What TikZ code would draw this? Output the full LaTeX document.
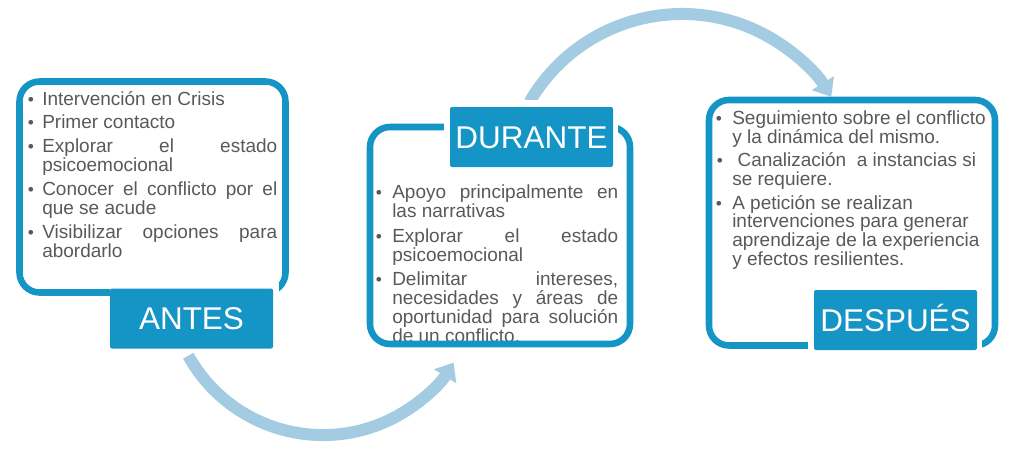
\documentclass[tikz,border=0pt]{standalone}
\usepackage{fontspec}
\setmainfont{Liberation Sans}
\usetikzlibrary{arrows.meta}
\definecolor{frameblue}{HTML}{1595C6}
\definecolor{arrowblue}{HTML}{A3CBE2}
\definecolor{txtgray}{HTML}{595959}
\newcommand\lns[2]{\vtop{\baselineskip=#1 #2}}
\newcommand\jb[2]{\hbox to #1{#2}}
\newcommand\lb[1]{\hbox{#1}}
\tikzset{
  frame/.style={draw=frameblue, line width=4.9pt, rounded corners=15pt},
  lbl/.style={fill=frameblue, text=white, minimum width=122.25pt, minimum height=45pt,
    inner sep=0pt, rounded corners=1.5pt, text height=17pt, text depth=0pt,
    font=\fontsize{23.6}{26}\selectfont},
  cover/.style={fill=white, draw=none},
  itm/.style={anchor=base west, inner sep=0pt, text=txtgray, font=\fontsize{14.25}{15}\selectfont},
  bul/.style={anchor=base, inner sep=0pt, text=txtgray, font=\fontsize{13}{14}\selectfont},
  flow/.style={draw=arrowblue, line width=9pt, -{Triangle[width=19pt,length=12pt]}},
}
\begin{document}
\begin{tikzpicture}[x=0.75pt,y=-0.75pt]
\useasboundingbox (0,0) rectangle (1017,450);
% ---------- ANTES texts
\node[bul] (ab1) at (31,105) {•};
\node[itm] (at1) at (42,105) {\lns{14.6pt}{\lb{Intervención en Crisis}}};
\node[bul] (ab2) at (31,128) {•};
\node[itm] (at2) at (42,128) {\lns{14.6pt}{\lb{Primer contacto}}};
\node[bul] (ab3) at (31,152) {•};
\node[itm] (at3) at (42,152) {\lns{14.6pt}{\jb{176.25pt}{Explorar el estado}\lb{psicoemocional}}};
\node[bul] (ab4) at (31,195) {•};
\node[itm] (at4) at (42,195) {\lns{14.6pt}{\jb{176.25pt}{Conocer el conflicto por el}\lb{que se acude}}};
\node[bul] (ab5) at (31,238) {•};
\node[itm] (at5) at (42,238) {\lns{14.6pt}{\jb{176.25pt}{Visibilizar opciones para}\lb{abordarlo}}};
% ---------- DURANTE texts
\node[bul] (db1) at (379,198) {•};
\node[itm] (dt1) at (392,198) {\lns{14.6pt}{\jb{169.5pt}{Apoyo principalmente en}\lb{las narrativas}}};
\node[bul] (db2) at (379,242) {•};
\node[itm] (dt2) at (392,242) {\lns{14.6pt}{\jb{169.5pt}{Explorar el estado}\lb{psicoemocional}}};
\node[bul] (db3) at (379,285) {•};
\node[itm] (dt3) at (392,285) {\lns{14.4pt}{\jb{169.5pt}{Delimitar intereses,}\jb{169.5pt}{necesidades y áreas de}\jb{169.5pt}{oportunidad para solución}\lb{de un conflicto.}}};
% ---------- DESPUES texts
\node[bul] (pb1) at (719,124) {•};
\node[itm] (pt1) at (732,124) {\lns{14.25pt}{\lb{Seguimiento sobre el conflicto}\lb{y la dinámica del mismo.}}};
\node[bul] (pb2) at (720,166) {•};
\node[itm] (pt2) at (732,166) {\lns{14.25pt}{\lb{\ Canalización\ \ a instancias si}\lb{se requiere.}}};
\node[bul] (pb3) at (719,209) {•};
\node[itm] (pt3) at (732,209) {\lns{14pt}{\lb{A petición se realizan}\lb{intervenciones para generar}\lb{aprendizaje de la experiencia}\lb{y efectos resilientes.}}};
% ---------- arrows
\coordinate (lowstart) at (188.3,355.7);
\coordinate (upstart) at (529.6,102);
\draw[flow] (lowstart) arc[start angle=151, end angle=32, radius=154];
\draw[flow] (upstart) arc[start angle=210, end angle=328, radius=176];
% ---------- frames
\draw[frame] (19.5,81.5) rectangle (285.5,292.5);
\draw[frame] (370,127) rectangle (630,344);
\draw[frame] (709,100) rectangle (995,345.5);
% ---------- covers for label gaps
\fill[cover] (110,283) rectangle (279,350);
\fill[cover] (444,100) rectangle (618,172);
\fill[cover] (808,284) rectangle (982,356);
% ---------- labels
\node[lbl] (antes) at (191.5,318.5) {ANTES};
\node[lbl] (durante) at (531.5,137) {DURANTE};
\node[lbl] (despues) at (895.5,320) {DESPUÉS};
\end{tikzpicture}
\end{document}
